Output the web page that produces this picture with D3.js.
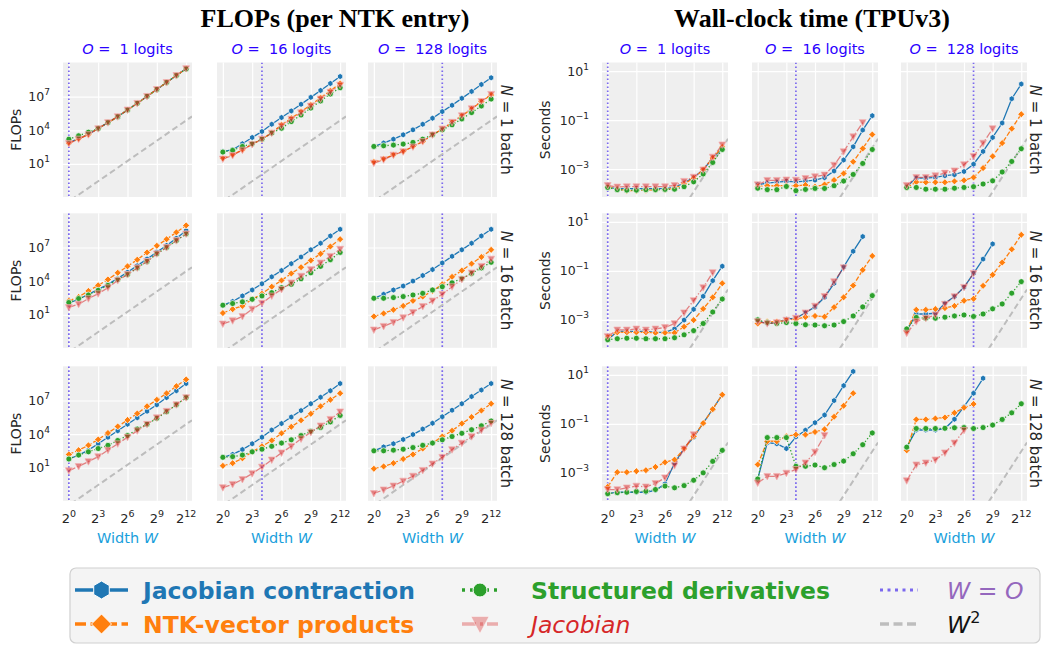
<!DOCTYPE html>
<html><head><meta charset="utf-8">
<script src="https://cdn.jsdelivr.net/npm/d3@7"></script>
<style>
body{margin:0;background:#fff;}
svg{display:block;font-family:"DejaVu Sans",sans-serif;}
text{white-space:pre;}
</style>
</head><body>
<svg id="chart" width="1045" height="646"></svg>
<script>
// ---------------- DATA ----------------
const widths = [1,2,4,8,16,32,64,128,256,512,1024,2048,4096];
const outputsO = [1,16,128];
const batchesN = [1,16,128];
const xTickExps = [0,3,6,9,12];
const flopsTickExps = [1,4,7];
const wallTickExps = [1,-1,-3];
const seriesNames = ["Jacobian contraction","NTK-vector products","Structured derivatives","Jacobian"];

// log10(FLOPs); panel order: N=1:[O=1,O=16,O=128], N=16:[...], N=128:[...]
const flopsLog10JacContraction = [
 [2.9,3.27,3.65,4.17,4.69,5.22,5.82,6.41,7.03,7.65,8.27,8.89,9.51],
 [2.1,2.27,2.8,3.36,3.89,4.54,5.14,5.73,6.32,6.94,7.56,8.18,8.8],
 [2.56,2.86,3.21,3.6,4.04,4.54,5.08,5.67,6.23,6.85,7.47,8.09,8.69],
 [2.03,2.38,2.82,3.26,3.71,4.24,4.79,5.38,5.97,6.59,7.18,7.82,8.5],
 [1.85,2.18,2.68,3.21,3.76,4.38,4.94,5.56,6.15,6.79,7.38,8.03,8.62],
 [2.47,2.82,3.21,3.56,4.0,4.5,5.03,5.62,6.21,6.79,7.38,8.03,8.62],
 [1.78,2.13,2.57,3.14,3.72,4.3,4.88,5.46,6.04,6.62,7.26,7.87,8.51],
 [1.93,2.19,2.62,3.14,3.72,4.36,4.94,5.52,6.1,6.71,7.29,7.87,8.51],
 [2.51,2.86,3.14,3.52,3.96,4.45,4.97,5.55,6.13,6.71,7.35,7.93,8.51]
];
const flopsLog10NtkVectorProducts = [
 [2.86,3.24,3.63,4.16,4.69,5.22,5.82,6.41,7.03,7.65,8.27,8.89,9.51],
 [1.5,1.82,2.27,2.77,3.21,3.8,4.49,5.08,5.67,6.26,6.91,7.53,8.18],
 [1.17,1.44,1.82,2.12,2.56,3.0,3.6,4.1,4.69,5.28,5.91,6.56,7.15],
 [2.24,2.59,3.12,3.62,4.15,4.74,5.32,5.91,6.56,7.15,7.74,8.35,8.97],
 [1.15,1.5,1.79,2.38,2.88,3.5,4.06,4.68,5.24,5.85,6.44,7.09,7.74],
 [0.85,1.12,1.44,1.79,2.24,2.62,3.12,3.71,4.38,4.94,5.56,6.15,6.79],
 [2.19,2.57,3.0,3.52,4.1,4.68,5.26,5.84,6.48,7.06,7.64,8.28,8.88],
 [1.17,1.41,1.84,2.42,2.91,3.43,4.07,4.65,5.23,5.81,6.48,7.06,7.64],
 [0.91,1.12,1.41,1.78,2.19,2.71,3.2,3.78,4.3,4.94,5.52,6.1,6.71]
];
const flopsLog10StructuredDerivatives = [
 [3.21,3.51,3.83,4.16,4.69,5.22,5.82,6.41,7.03,7.65,8.27,8.89,9.46],
 [2.06,2.21,2.56,2.8,3.21,3.75,4.19,4.78,5.37,5.99,6.62,7.24,7.8],
 [2.56,2.62,2.68,2.77,2.92,3.21,3.6,4.04,4.49,5.02,5.58,6.17,6.79],
 [2.09,2.44,2.76,3.18,3.62,4.15,4.59,5.18,5.76,6.44,7.0,7.62,8.21],
 [1.85,2.0,2.15,2.38,2.68,2.97,3.41,3.71,4.21,4.74,5.32,5.91,6.56],
 [2.47,2.47,2.53,2.62,2.76,2.91,3.21,3.5,3.85,4.24,4.68,5.18,5.68],
 [1.78,2.13,2.42,2.71,3.0,3.43,3.87,4.45,4.88,5.41,5.99,6.62,7.26],
 [1.93,1.99,2.13,2.42,2.65,2.91,3.2,3.49,3.87,4.25,4.59,5.09,5.67],
 [2.51,2.51,2.57,2.65,2.8,3.0,3.2,3.49,3.78,4.07,4.39,4.74,5.17]
];
const flopsLog10Jacobian = [
 [2.83,3.22,3.62,4.15,4.69,5.22,5.82,6.41,7.03,7.65,8.27,8.89,9.51],
 [1.44,1.76,2.24,2.74,3.21,3.75,4.4,4.99,5.58,6.17,6.8,7.41,8.04],
 [1.08,1.38,1.79,2.09,2.53,3.0,3.6,4.13,4.72,5.31,5.93,6.59,7.21],
 [1.65,1.94,2.44,2.88,3.41,4.06,4.59,5.18,5.76,6.44,7.0,7.62,8.21],
 [0.18,0.47,0.85,1.5,2.03,2.68,3.26,3.85,4.44,5.03,5.62,6.21,6.85],
 [-0.35,-0.03,0.32,0.74,1.21,1.74,2.24,2.82,3.5,4.15,4.74,5.32,5.97],
 [0.74,1.12,1.55,1.99,2.57,3.14,3.72,4.3,4.88,5.46,6.04,6.62,7.26],
 [-0.77,-0.48,-0.04,0.48,1.06,1.7,2.33,2.91,3.58,4.16,4.74,5.32,5.99],
 [-1.29,-0.97,-0.62,-0.19,0.25,0.77,1.35,1.93,2.62,3.2,3.78,4.36,4.97]
];

// log10(seconds); shorter rows stop where the method ran out of memory
const wallLog10JacContraction = [
 [-3.75,-3.8,-3.8,-3.8,-3.8,-3.8,-3.8,-3.75,-3.57,-3.34,-3.03,-2.55,-2.14],
 [-3.64,-3.57,-3.53,-3.5,-3.52,-3.49,-3.45,-3.35,-3.08,-2.63,-2.09,-1.41,-0.82],
 [-3.71,-3.37,-3.37,-3.34,-3.27,-3.23,-3.1,-2.8,-2.28,-1.71,-1.12,-0.13,0.47],
 [-3.81,-3.47,-3.47,-3.47,-3.47,-3.51,-3.51,-3.37,-3.01,-2.57,-2.04,-1.4,-0.81],
 [-3.04,-3.15,-3.11,-2.97,-2.93,-2.71,-2.47,-2.08,-1.51,-0.84,-0.2,0.4],
 [-3.44,-2.76,-2.76,-2.73,-2.32,-2.05,-1.67,-1.1,-0.52,0.1],
 [-3.85,-3.79,-3.79,-3.79,-3.79,-3.71,-3.45,-2.6,-2.0,-1.55,-0.97,-0.4,0.19],
 [-3.25,-1.77,-1.81,-2.01,-1.53,-1.26,-0.95,-0.64,-0.05,0.56,1.14],
 [-1.95,-1.25,-1.25,-1.25,-1.19,-0.81,-0.3,0.25,0.86]
];
const wallLog10NtkVectorProducts = [
 [-3.72,-3.82,-3.88,-3.88,-3.86,-3.84,-3.84,-3.78,-3.61,-3.37,-3.03,-2.55,-2.1],
 [-3.71,-3.68,-3.68,-3.67,-3.68,-3.65,-3.72,-3.63,-3.45,-3.18,-2.7,-2.16,-1.59],
 [-3.75,-3.53,-3.54,-3.54,-3.54,-3.5,-3.46,-3.34,-2.96,-2.48,-1.94,-1.35,-0.76],
 [-3.71,-3.51,-3.51,-3.51,-3.51,-3.53,-3.53,-3.53,-3.28,-3.01,-2.55,-2.08,-1.51],
 [-3.15,-3.07,-3.08,-3.01,-2.97,-2.88,-2.84,-2.87,-2.48,-2.08,-1.6,-0.96,-0.39],
 [-3.44,-2.59,-2.59,-2.56,-2.52,-2.43,-2.22,-2.14,-1.61,-1.16,-0.66,-0.12,0.47],
 [-3.57,-2.97,-2.97,-2.93,-2.89,-2.76,-2.57,-2.46,-2.02,-1.51,-0.97,-0.4,0.19],
 [-2.66,-1.71,-1.71,-1.51,-1.44,-1.44,-1.33,-1.22,-0.71,-0.26,0.25],
 [-2.08,-0.82,-0.82,-0.78,-0.74,-0.55,-0.34,-0.19]
];
const wallLog10StructuredDerivatives = [
 [-3.75,-3.84,-3.86,-3.86,-3.84,-3.84,-3.83,-3.82,-3.72,-3.52,-3.2,-2.73,-2.2],
 [-3.78,-3.84,-3.84,-3.71,-3.88,-3.83,-3.79,-3.79,-3.68,-3.49,-3.22,-2.77,-2.2],
 [-3.75,-3.75,-3.82,-3.82,-3.82,-3.78,-3.75,-3.72,-3.61,-3.48,-3.12,-2.69,-2.17],
 [-3.81,-3.77,-3.75,-3.75,-3.77,-3.77,-3.77,-3.73,-3.61,-3.44,-3.15,-2.68,-2.15],
 [-3.0,-3.11,-3.15,-3.11,-3.15,-3.2,-3.21,-3.24,-3.21,-3.07,-2.84,-2.47,-2.01],
 [-3.37,-2.9,-2.93,-2.93,-2.89,-2.84,-2.8,-2.86,-2.76,-2.55,-2.35,-1.91,-1.44],
 [-3.85,-3.81,-3.79,-3.76,-3.75,-3.68,-3.54,-3.61,-3.52,-3.3,-3.0,-2.53,-2.08],
 [-3.25,-1.56,-1.56,-1.56,-2.73,-2.73,-2.68,-2.79,-2.66,-2.52,-2.22,-1.85,-1.37],
 [-1.95,-1.19,-1.19,-1.19,-1.18,-1.16,-1.15,-1.19,-1.15,-1.05,-0.82,-0.55,-0.18]
];
const wallLog10Jacobian = [
 [-3.67,-3.73,-3.72,-3.72,-3.72,-3.72,-3.72,-3.67,-3.5,-3.33,-3.03,-2.51,-2.01],
 [-3.64,-3.46,-3.46,-3.44,-3.45,-3.38,-3.31,-3.24,-2.84,-2.29,-1.68,-1.1],
 [-3.67,-3.34,-3.34,-3.27,-3.16,-3.07,-2.82,-2.48,-1.94,-1.35],
 [-3.68,-3.41,-3.41,-3.37,-3.41,-3.37,-3.31,-3.15,-2.71,-2.21,-1.68,-1.07],
 [-3.07,-3.15,-3.11,-3.01,-2.93,-2.71,-2.44,-2.04,-1.44,-0.87],
 [-3.54,-3.07,-2.93,-2.8,-2.36,-2.05,-1.67,-1.1],
 [-3.68,-3.68,-3.61,-3.54,-3.57,-3.43,-3.2,-2.7,-2.02,-1.44],
 [-3.41,-3.14,-3.14,-3.01,-2.86,-2.59,-2.15,-1.47],
 [-3.32,-2.67,-2.59,-2.47,-2.18,-1.78,-1.26]
];

// ---------------- STYLE / LAYOUT ----------------
const styles = [
  {color:"#1f77b4", dash:null,        marker:"hex",     r:3.0, op:1},
  {color:"#ff7f0e", dash:"4.8,2",     marker:"diamond", r:3.5, op:1},
  {color:"#2ca02c", dash:"1.3,2.1",   marker:"circle",  r:3.0, op:1},
  {color:"#d62728", dash:"7,2,1.3,2", marker:"tri",     r:3.6, op:0.55}
];
const rowTops = [62.5, 213.3, 366.3];
const rowH = 134.5;
const panelBg = "#efefef";
const textColor = "#262626";
const groups = [
  {lefts:[63,217,368], w:129, ylog:[-1.95,10.05], ticks:flopsTickExps, c:0.0045,
   ylabel:"FLOPs", ylabelX:16, rowLabelX:506, title:"FLOPs (per NTK entry)", titleX:335,
   data:[flopsLog10JacContraction, flopsLog10NtkVectorProducts, flopsLog10StructuredDerivatives, flopsLog10Jacobian]},
  {lefts:[602,752,901], w:126, ylog:[-4.14,1.35], ticks:wallTickExps, c:4.5e-10,
   ylabel:"Seconds", ylabelX:545, rowLabelX:1035, title:"Wall-clock time (TPUv3)", titleX:812,
   data:[wallLog10JacContraction, wallLog10NtkVectorProducts, wallLog10StructuredDerivatives, wallLog10Jacobian]}
];

function markerPath(type, r){
  if(type==="circle") return d3.symbol(d3.symbolCircle, Math.PI*r*r)();
  let pts;
  if(type==="hex"){ pts=d3.range(6).map(k=>{const a=Math.PI/2+k*Math.PI/3;return [r*Math.cos(a), -r*Math.sin(a)];}); }
  else if(type==="diamond"){ pts=[[0,-r],[r,0],[0,r],[-r,0]]; }
  else { pts=[[0,r],[-r*0.95,-r*0.8],[r*0.95,-r*0.8]]; }
  return "M"+pts.map(p=>p[0].toFixed(2)+","+p[1].toFixed(2)).join("L")+"Z";
}

const svg = d3.select("#chart");
const defs = svg.append("defs");
let clipId = 0;

function supText(g, x, y, base, sup, anchor, size, supSize, rise){
  const t = g.append("text").attr("x",x).attr("y",y).attr("text-anchor",anchor)
    .attr("font-size",size).attr("fill",textColor);
  t.append("tspan").text(base);
  t.append("tspan").attr("dy",-rise).attr("font-size",supSize).text(sup);
  return t;
}

groups.forEach(G=>{
  svg.append("text").attr("x",G.titleX).attr("y",27).attr("text-anchor","middle")
    .attr("font-family","Liberation Serif, Times New Roman, serif").attr("font-weight","bold")
    .attr("font-size",26).attr("fill","#000").text(G.title);

  batchesN.forEach((N,ri)=>{
    const y0 = rowTops[ri];
    outputsO.forEach((O,ci)=>{
      const x0 = G.lefts[ci], w = G.w;
      const x = d3.scaleLog().base(2).domain([Math.pow(2,-0.6), Math.pow(2,12.6)]).range([x0, x0+w]);
      const y = d3.scaleLog().domain([Math.pow(10,G.ylog[0]), Math.pow(10,G.ylog[1])]).range([y0+rowH, y0]);
      const id = "clip"+(clipId++);
      defs.append("clipPath").attr("id",id).append("rect").attr("x",x0).attr("y",y0).attr("width",w).attr("height",rowH);
      const g = svg.append("g");
      g.append("rect").attr("x",x0).attr("y",y0).attr("width",w).attr("height",rowH).attr("fill",panelBg);
      const xAxis = d3.axisBottom(x).tickValues(xTickExps.map(e=>Math.pow(2,e))).tickSize(-rowH).tickFormat("");
      const gx = g.append("g").attr("transform",`translate(0,${y0+rowH})`).call(xAxis);
      const yAxis = d3.axisLeft(y).tickValues(G.ticks.map(e=>Math.pow(10,e))).tickSize(-w).tickFormat("");
      const gy = g.append("g").attr("transform",`translate(${x0},0)`).call(yAxis);
      [gx,gy].forEach(a=>{a.select(".domain").remove(); a.selectAll("line").attr("stroke","#fff").attr("stroke-width",1.2);});

      const pg = g.append("g").attr("clip-path",`url(#${id})`);
      pg.append("line").attr("x1",x(O)).attr("x2",x(O)).attr("y1",y0).attr("y2",y0+rowH)
        .attr("stroke","#7b68ee").attr("stroke-width",1.7).attr("stroke-dasharray","1.6,2.4");
      const wr = [Math.pow(2,-0.6), Math.pow(2,12.6)];
      pg.append("path").attr("d", d3.line().x(d=>x(d)).y(d=>y(G.c*d*d))(wr))
        .attr("fill","none").attr("stroke","#bdbdbd").attr("stroke-width",2).attr("stroke-dasharray","6,3.5");
      const pi = ri*3+ci;
      G.data.forEach((arr,si)=>{
        const st = styles[si];
        const pts = arr[pi].map((v,i)=>[widths[i], Math.pow(10,v)]);
        const line = d3.line().x(d=>x(d[0])).y(d=>y(d[1]));
        const p = pg.append("path").attr("d",line(pts)).attr("fill","none").attr("stroke",st.color)
          .attr("stroke-width",1.3).attr("stroke-opacity",st.op);
        if(st.dash) p.attr("stroke-dasharray",st.dash);
        pg.selectAll(null).data(pts).enter().append("path")
          .attr("d",markerPath(st.marker, st.r))
          .attr("transform",d=>`translate(${x(d[0])},${y(d[1])})`)
          .attr("fill",st.color).attr("fill-opacity",st.op)
          .attr("stroke",st.op<1?"#f4b0b0":"#fff").attr("stroke-width",0.7);
      });

      if(ri===0){
        const t = svg.append("text").attr("x",x0+w/2).attr("y",53.5).attr("text-anchor","middle")
          .attr("font-size",14.5).attr("fill","#2a00ff");
        t.append("tspan").attr("font-style","italic").text("O");
        t.append("tspan").text(" =  "+O+" logits");
      }
      if(ci===0){
        G.ticks.forEach(e=>{
          const s = e<0 ? "\u2212"+(-e) : ""+e;
          supText(svg, x0-13, y(Math.pow(10,e))+4.5, "10", s, "end", 12.5, 9, 6);
        });
        svg.append("text").attr("transform",`translate(${G.ylabelX},${y0+rowH/2}) rotate(-90)`)
          .attr("text-anchor","middle").attr("dominant-baseline","central")
          .attr("font-size",14).attr("fill",textColor).text(G.ylabel);
      }
      if(ri===2){
        xTickExps.forEach(e=>{
          supText(svg, x(Math.pow(2,e)), 523, "2", ""+e, "middle", 13, 9.5, 6.5);
        });
        const t = svg.append("text").attr("x",x0+w/2).attr("y",542.5).attr("text-anchor","middle")
          .attr("font-size",14.5).attr("fill","#1a9fdc");
        t.append("tspan").text("Width ");
        t.append("tspan").attr("font-style","italic").text("W");
      }
      if(ci===2){
        const t = svg.append("text").attr("transform",`translate(${G.rowLabelX},${y0+rowH/2}) rotate(90)`)
          .attr("text-anchor","middle").attr("dominant-baseline","central")
          .attr("font-size",15).attr("fill",textColor);
        t.append("tspan").attr("font-style","italic").text("N");
        t.append("tspan").text(" = "+N+" batch");
      }
    });
  });
});

// ---------------- LEGEND ----------------
const lg = svg.append("g");
lg.append("rect").attr("x",70).attr("y",568).attr("width",970).attr("height",75).attr("rx",6)
  .attr("fill","#f4f4f4").attr("stroke","#d0d0d0").attr("stroke-width",1.2);
const legendItems = [
  {si:0, hx:[75,128], tx:143, y:590, r:9},
  {si:1, hx:[75,128], tx:143, y:624, r:10},
  {si:2, hx:[462,498], tx:531, y:590, r:7},
  {si:3, hx:[462,498], tx:531, y:624, r:9.5}
];
const legendDash = ["", "11,4.5", "3,5", "14,4,3,4"];
legendItems.forEach(it=>{
  const st = styles[it.si];
  const op = st.op<1 ? 0.35 : 1;
  const ln = lg.append("line").attr("x1",it.hx[0]).attr("x2",it.hx[1]).attr("y1",it.y).attr("y2",it.y)
    .attr("stroke",st.color).attr("stroke-width",3.5).attr("stroke-opacity",op);
  if(legendDash[it.si]) ln.attr("stroke-dasharray",legendDash[it.si]);
  lg.append("path").attr("d",markerPath(st.marker,it.r))
    .attr("transform",`translate(${(it.hx[0]+it.hx[1])/2},${it.y})`)
    .attr("fill",st.color).attr("fill-opacity",op).attr("stroke","#fff").attr("stroke-width",1).attr("stroke-opacity",op<1?0.5:1);
  const t = lg.append("text").attr("x",it.tx).attr("y",it.y+8.5).attr("font-size",23.5).attr("fill",st.color)
    .text(seriesNames[it.si]);
  if(it.si===3) t.attr("font-style","italic"); else t.attr("font-weight","bold");
});
lg.append("line").attr("x1",880).attr("x2",918).attr("y1",590).attr("y2",590)
  .attr("stroke","#7b68ee").attr("stroke-width",3).attr("stroke-dasharray","3,4.5");
lg.append("line").attr("x1",880).attr("x2",918).attr("y1",624).attr("y2",624)
  .attr("stroke","#bdbdbd").attr("stroke-width",3.5).attr("stroke-dasharray","9,4.5");
const t1 = lg.append("text").attr("x",947).attr("y",598.5).attr("font-size",23.5).attr("fill","#9467bd");
t1.append("tspan").attr("font-style","italic").text("W");
t1.append("tspan").text(" = ");
t1.append("tspan").attr("font-style","italic").text("O");
const t2 = lg.append("text").attr("x",947).attr("y",632.5).attr("font-size",23.5).attr("fill","#111");
t2.append("tspan").attr("font-style","italic").text("W");
t2.append("tspan").attr("dy",-10).attr("font-size",16).text("2");
</script>
</body></html>
